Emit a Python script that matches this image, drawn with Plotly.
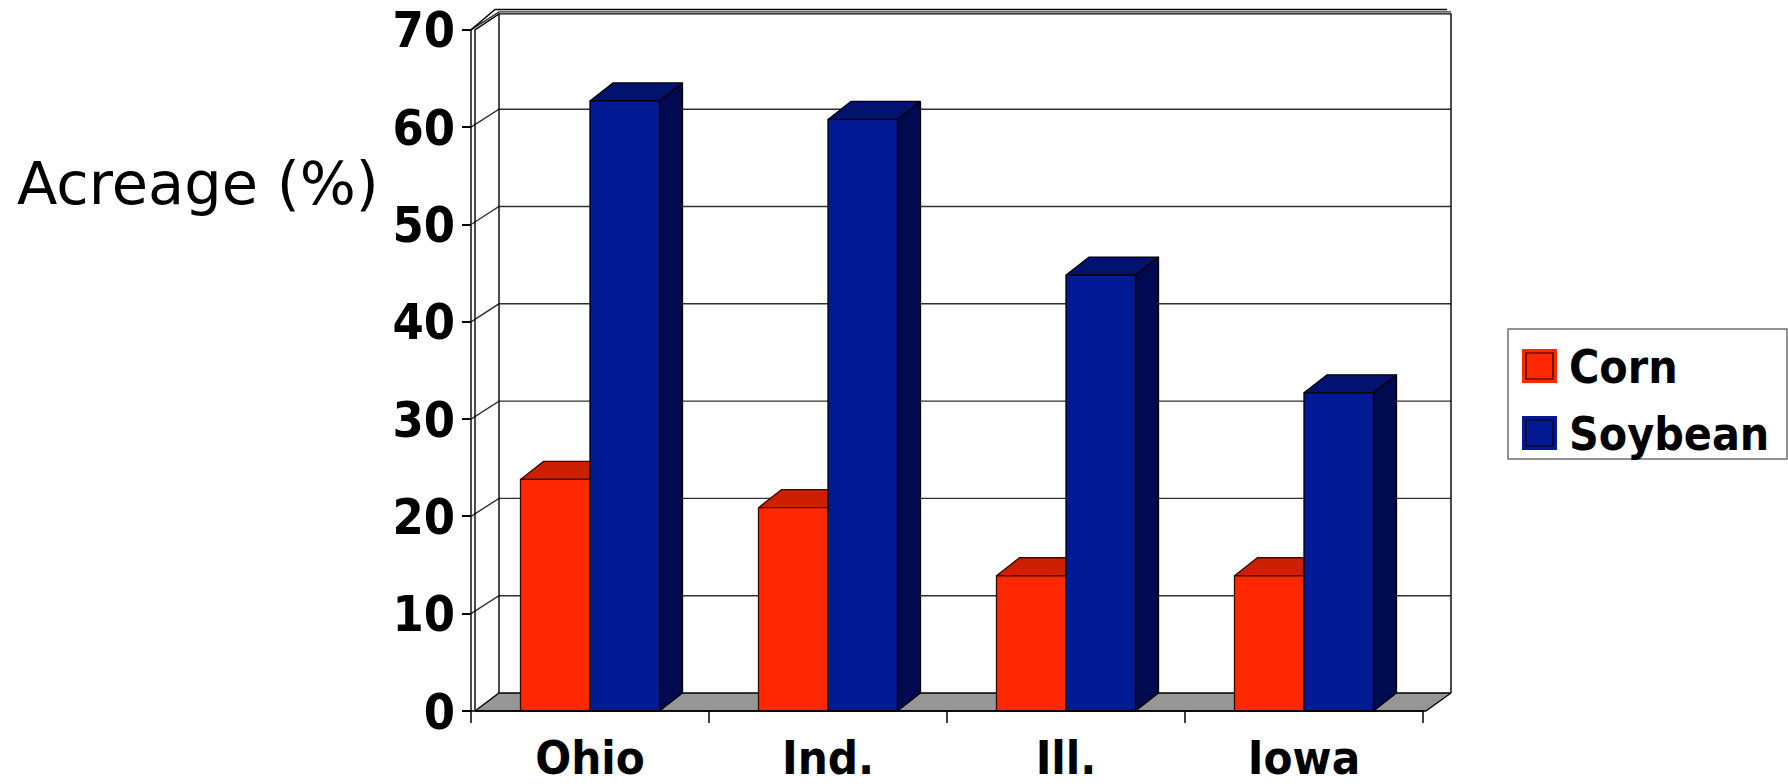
import plotly.graph_objects as go

# ---- data -------------------------------------------------------------
states = ["Ohio", "Ind.", "Ill.", "Iowa"]
series_names = ["Corn", "Soybean"]
corn = [23.8, 20.9, 13.9, 13.9]
soybean = [62.7, 60.8, 44.8, 32.7]
y_ticks = [0, 10, 20, 30, 40, 50, 60, 70]
y_title = "Acreage (%)"

# ---- page geometry (pixels) --------------------------------------------
W, H = 1788, 784
PX_X = 238.0          # pixels per category
PX_Y = 9.73           # pixels per percent
L_PX, R_PX = 462, 1460
T_PX, B_PX = 5, 726
FRONT_X_PX = 471      # front edge of the left wall
ZERO_PX = 711         # pixel row of 0 % on the front plane

x_lo = -0.5 - (FRONT_X_PX - L_PX) / PX_X
x_hi = x_lo + (R_PX - L_PX) / PX_X
y_hi = (ZERO_PX - T_PX) / PX_Y
y_lo = -(B_PX - ZERO_PX) / PX_Y

# oblique "3-D" depth offsets
DX = 23 / PX_X        # bar depth, horizontal
DXW = 28 / PX_X       # wall depth, horizontal
DY = 18 / PX_Y        # depth, vertical (in % units)
WALL = 4 / PX_X       # wall thickness
BW = 0.292            # bar width in category units
TICK_DROP = 12 / PX_Y

CORN = dict(front="#FF2800", top="#CC2000", side="#8C1600", edge="#3A0800")
SOY = dict(front="#021A94", top="#01136F", side="#000A50", edge="#000000")
FLOOR = "#969696"

FONT_BOLD = "DejaVu Sans Condensed, DejaVu Sans, Verdana, sans-serif"
FONT_REG = "DejaVu Sans, Verdana, sans-serif"


def px_to_paper_x(px):
    return (px - L_PX) / (R_PX - L_PX)


def px_to_paper_y(py):
    return (B_PX - py) / (B_PX - T_PX)


fig = go.Figure()


def poly(xs, ys, fill, edge="black", lw=1.3):
    fig.add_trace(go.Scatter(
        x=list(xs) + [xs[0]], y=list(ys) + [ys[0]],
        mode="lines", fill="toself", fillcolor=fill,
        line=dict(color=edge, width=lw),
        hoverinfo="skip", showlegend=False))


def polyline(xs, ys, color="black", lw=1.3):
    fig.add_trace(go.Scatter(
        x=xs, y=ys, mode="lines", line=dict(color=color, width=lw),
        hoverinfo="skip", showlegend=False, connectgaps=False))


top = y_ticks[-1]
left = -0.5
right = len(states) - 0.5

# back wall panel
poly([left + DXW, right + DXW, right + DXW, left + DXW],
     [DY, DY, top + DY, top + DY], "white", lw=0)

# gridlines: diagonal on the side wall, horizontal on the back wall
gx, gy = [], []
for v in y_ticks[1:]:
    gx += [left, left + DXW, right + DXW, None]
    gy += [v, v + DY, v + DY, None]
polyline(gx, gy, color="#303030", lw=1.4)

# floor slab
poly([left + WALL, left + DXW, right + DXW, right + WALL * 0.7],
     [0, DY, DY, 0], FLOOR, lw=1.3)

# wall outlines (double lines give the walls some thickness)
polyline([left, left, left + DXW - WALL, right + DXW - WALL],
         [0, top, top + DY + 0.25, top + DY + 0.25], lw=1.4)
polyline([left + WALL, left + WALL, left + DXW, right + DXW, right + DXW],
         [0, top, top + DY - 0.2, top + DY - 0.2, DY], lw=1.4)
polyline([left + DXW, left + DXW], [DY, top + DY - 0.2], lw=1.4)


def bar3d(x0, x1, v, c):
    # right side, top, then front face
    poly([x1, x1 + DX, x1 + DX, x1], [0, DY, v + DY, v], c["side"], c["edge"])
    poly([x0, x1, x1 + DX, x0 + DX], [v, v, v + DY, v + DY], c["top"], c["edge"])
    poly([x0, x1, x1, x0], [0, 0, v, v], c["front"], c["edge"])


for i in range(len(states)):
    bar3d(i - BW, i, corn[i], CORN)
    bar3d(i, i + BW, soybean[i], SOY)

# front category axis line and boundary ticks
polyline([x_lo, right], [0, 0], lw=1.5)
tx, ty = [], []
for k in range(len(states) + 1):
    xb = left + k
    tx += [xb, xb, None]
    ty += [0, -TICK_DROP, None]
polyline(tx, ty, lw=1.5)

# ---- legend (drawn by hand so the swatches can be large) ----------------
legend_box = (1508, 329, 1787, 459)
fig.add_shape(type="rect", xref="paper", yref="paper",
              x0=px_to_paper_x(legend_box[0]), x1=px_to_paper_x(legend_box[2]),
              y0=px_to_paper_y(legend_box[3]), y1=px_to_paper_y(legend_box[1]),
              line=dict(color="#6E6E6E", width=1.5), fillcolor="white")
for k, (name, c) in enumerate(zip(series_names, [CORN, SOY])):
    cy = 366 + k * 67
    fig.add_shape(type="rect", xref="paper", yref="paper",
                  x0=px_to_paper_x(1523), x1=px_to_paper_x(1556),
                  y0=px_to_paper_y(cy + 16), y1=px_to_paper_y(cy - 16),
                  line=dict(color=c["front"], width=2), fillcolor=c["front"])
    fig.add_shape(type="rect", xref="paper", yref="paper",
                  x0=px_to_paper_x(1526), x1=px_to_paper_x(1553),
                  y0=px_to_paper_y(cy + 13), y1=px_to_paper_y(cy - 13),
                  line=dict(color="#1A0000" if k == 0 else "black", width=1.2),
                  fillcolor=c["front"])
    fig.add_annotation(xref="paper", yref="paper",
                       x=px_to_paper_x(1567), y=px_to_paper_y(cy + 1),
                       xanchor="left", yanchor="middle", showarrow=False,
                       text=f"<b>{name}</b>",
                       font=dict(family=FONT_BOLD, size=46, color="black"))

# axis title written horizontally to the left of the value axis
fig.add_annotation(xref="paper", yref="paper",
                   x=px_to_paper_x(15), y=px_to_paper_y(183),
                   xanchor="left", yanchor="middle", showarrow=False,
                   text=y_title,
                   font=dict(family=FONT_REG, size=59, color="black"))

fig.update_layout(
    width=W, height=H,
    margin=dict(l=L_PX, r=W - R_PX, t=T_PX, b=H - B_PX, autoexpand=False),
    paper_bgcolor="white", plot_bgcolor="white",
    showlegend=False,
    xaxis=dict(range=[x_lo, x_hi], tickmode="array",
               tickvals=list(range(len(states))),
               ticktext=[f"<b>{s}</b>" for s in states],
               ticks="", showgrid=False, zeroline=False, showline=False,
               ticklabelstandoff=0,
               tickfont=dict(family=FONT_BOLD, size=47, color="black")),
    yaxis=dict(range=[y_lo, y_hi], tickmode="array", tickvals=y_ticks,
               ticktext=[f"<b>{v}</b>" for v in y_ticks],
               ticks="inside", ticklen=9, tickwidth=1.5, tickcolor="black",
               showgrid=False, zeroline=False, showline=False,
               ticklabelstandoff=6,
               tickfont=dict(family=FONT_BOLD, size=50, color="black")),
)

fig.write_html("out.html")
